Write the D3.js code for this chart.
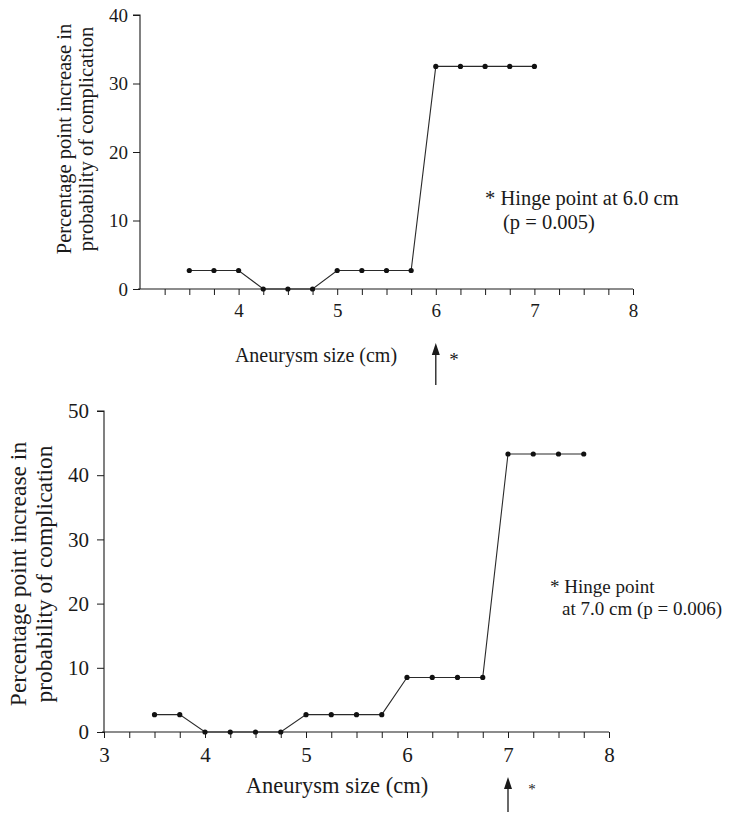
<!DOCTYPE html>
<html>
<head>
<meta charset="utf-8">
<script src="https://cdn.jsdelivr.net/npm/d3@7/dist/d3.min.js"></script>
<style>
  html, body { margin: 0; padding: 0; background: #fff; }
  svg { display: block; }
  text { font-family: "Liberation Serif", Tinos, "Times New Roman", Times, "DejaVu Serif", serif !important; fill: #1a1a1a; }
</style>
</head>
<body>
<svg id="chart" width="729" height="816"></svg>
<script>
// ---- Data ----
const topSizes    = [3.5, 3.75, 4, 4.25, 4.5, 4.75, 5, 5.25, 5.5, 5.75, 6, 6.25, 6.5, 6.75, 7];
const topValues   = [2.7, 2.7, 2.7, 0, 0, 0, 2.7, 2.7, 2.7, 2.7, 32.5, 32.5, 32.5, 32.5, 32.5];
const topYTicks   = [0, 10, 20, 30, 40];
const topXLabels  = [4, 5, 6, 7, 8];
const topHinge    = 6;
const topNote     = ["* Hinge point at 6.0 cm", "(p = 0.005)"];

const botSizes    = [3.5, 3.75, 4, 4.25, 4.5, 4.75, 5, 5.25, 5.5, 5.75, 6, 6.25, 6.5, 6.75, 7, 7.25, 7.5, 7.75];
const botValues   = [2.7, 2.7, 0, 0, 0, 0, 2.7, 2.7, 2.7, 2.7, 8.5, 8.5, 8.5, 8.5, 43.3, 43.3, 43.3, 43.3];
const botYTicks   = [0, 10, 20, 30, 40, 50];
const botXLabels  = [3, 4, 5, 6, 7, 8];
const botHinge    = 7;
const botNote     = ["* Hinge point", "at 7.0 cm (p = 0.006)"];

const xMinorStep  = 0.25;
const yTitle      = ["Percentage point increase in", "probability of complication"];
const xTitle      = "Aneurysm size (cm)";

// ---- Layout ----
const panels = [
  {
    sizes: topSizes, values: topValues, yTicks: topYTicks, xLabels: topXLabels,
    hinge: topHinge, note: topNote,
    xDom: [3, 8], xRange: [140, 633], yDom: [0, 40], yRange: [289, 15],
    tickFont: 19, yTickLen: 7, xTickLen: 6, yLabPad: 5, xLabBase: 28,
    yTitleFont: 20.5, yTitleX: [71, 93], yTitleY: 139,
    xTitleFont: 20, xTitleX: 316, xTitleY: 362,
    noteFont: 20.5, noteXY: [[485, 205], [503, 229]],
    arrow: [343, 385], starX: 454, starY: 366, starFont: 19
  },
  {
    sizes: botSizes, values: botValues, yTicks: botYTicks, xLabels: botXLabels,
    hinge: botHinge, note: botNote,
    xDom: [3, 8], xRange: [104, 609], yDom: [0, 50], yRange: [732, 411],
    tickFont: 21, yTickLen: 7, xTickLen: 6, yLabPad: 8, xLabBase: 30,
    yTitleFont: 23.5, yTitleX: [26, 52], yTitleY: 574,
    xTitleFont: 22.5, xTitleX: 337, xTitleY: 793,
    noteFont: 19, noteXY: [[550, 593], [562, 615]],
    arrow: [777, 812], starX: 532, starY: 794, starFont: 15
  }
];

const svg = d3.select("#chart");
const ink = "#1a1a1a";

panels.forEach(p => {
  const g = svg.append("g");
  const x = d3.scaleLinear().domain(p.xDom).range(p.xRange);
  const y = d3.scaleLinear().domain(p.yDom).range(p.yRange);

  // y axis
  const yAxis = d3.axisLeft(y).tickValues(p.yTicks).tickSize(p.yTickLen)
    .tickPadding(p.yLabPad).tickFormat(d3.format("d"));
  const gy = g.append("g").attr("transform", `translate(${p.xRange[0]},0)`).call(yAxis)
    .attr("font-family", null).attr("font-size", null);
  gy.select(".domain").attr("stroke", ink).attr("stroke-width", 1.1)
    .attr("d", `M${-p.yTickLen},${p.yRange[1]}H0V${p.yRange[0]}`);
  gy.selectAll(".tick line").attr("stroke", ink);
  gy.selectAll(".tick text").style("font-size", p.tickFont + "px").attr("fill", ink);

  // x axis: minor ticks every 0.25, labels on selected values
  const minor = d3.range(p.xDom[0], p.xDom[1] + 1e-9, xMinorStep);
  const xAxis = d3.axisBottom(x).tickValues(minor).tickSize(p.xTickLen)
    .tickFormat(d => (p.xLabels.includes(d) ? d3.format("d")(d) : ""));
  const gx = g.append("g").attr("transform", `translate(0,${p.yRange[0]})`).call(xAxis)
    .attr("font-family", null).attr("font-size", null);
  gx.select(".domain").attr("stroke", ink).attr("stroke-width", 1.1)
    .attr("d", `M${p.xRange[0] - 2},0H${p.xRange[1]}`);
  gx.selectAll(".tick line").attr("stroke", ink);
  gx.selectAll(".tick text").attr("dy", null).attr("y", p.xLabBase)
    .style("font-size", p.tickFont + "px").attr("fill", ink);
  gx.selectAll(".tick").filter(d => Math.abs(d - p.xDom[0]) < 1e-9 && !p.xLabels.includes(d))
    .select("line").remove();

  // line + markers
  const pts = p.sizes.map((s, i) => [s, p.values[i]]);
  g.append("path").datum(pts)
    .attr("fill", "none").attr("stroke", "#2a2a2a").attr("stroke-width", 1.1)
    .attr("d", d3.line().x(d => x(d[0])).y(d => y(d[1])));
  g.selectAll("circle.pt").data(pts).join("circle").attr("class", "pt")
    .attr("cx", d => x(d[0])).attr("cy", d => y(d[1])).attr("r", 2.6).attr("fill", "#111");

  // y title (two rotated lines)
  p.yTitleX.forEach((bx, i) => {
    g.append("text")
      .attr("transform", `translate(${bx},${p.yTitleY}) rotate(-90)`)
      .attr("text-anchor", "middle")
      .style("font-size", p.yTitleFont + "px")
      .text(yTitle[i]);
  });

  // x title
  g.append("text").attr("x", p.xTitleX).attr("y", p.xTitleY)
    .attr("text-anchor", "middle").style("font-size", p.xTitleFont + "px").text(xTitle);

  // note
  p.note.forEach((t, i) => {
    g.append("text").attr("x", p.noteXY[i][0]).attr("y", p.noteXY[i][1])
      .style("font-size", p.noteFont + "px").text(t);
  });

  // hinge arrow
  const ax = x(p.hinge);
  g.append("line").attr("x1", ax).attr("x2", ax).attr("y1", p.arrow[0] + 8).attr("y2", p.arrow[1])
    .attr("stroke", ink).attr("stroke-width", 1.3);
  g.append("path")
    .attr("d", `M${ax},${p.arrow[0]}L${ax - 4},${p.arrow[0] + 12}L${ax + 4},${p.arrow[0] + 12}Z`)
    .attr("fill", ink);
  g.append("text").attr("x", p.starX).attr("y", p.starY).attr("text-anchor", "middle")
    .style("font-size", p.starFont + "px").text("*");
});
</script>
</body>
</html>
